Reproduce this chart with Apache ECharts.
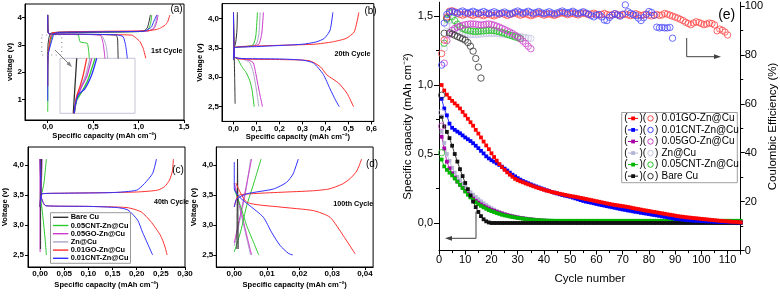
<!DOCTYPE html>
<html><head><meta charset="utf-8">
<script src="https://cdn.jsdelivr.net/npm/echarts@6.0.0/dist/echarts.min.js"></script>
<style>html,body{margin:0;padding:0;background:#fff}#c{width:780px;height:296px}</style>
</head><body><div id="c"></div>
<script>
// ---------- panel (a) 1st cycle ----------
const a_ch_black = [[0,2.4],[0.003,3.0],[0.02,3.35],[0.05,3.45],[0.5,3.47],[1.0,3.49],[1.06,3.52],[1.095,3.62],[1.115,3.85],[1.13,4.1]];
const a_ch_green = [[0,0.55],[0.001,1.0],[0.003,2.6],[0.03,3.1],[0.06,3.4],[0.1,3.46],[0.5,3.47],[1.0,3.49],[1.1,3.55],[1.13,3.75],[1.145,4.1]];
const a_ch_gray = [[0,1.5],[0.003,2.6],[0.03,3.2],[0.06,3.42],[0.6,3.48],[1.1,3.51],[1.16,3.6],[1.19,3.85],[1.205,4.1]];
const a_ch_magenta = [[0,1.5],[0.003,2.6],[0.03,3.2],[0.06,3.42],[0.6,3.48],[1.1,3.51],[1.17,3.6],[1.2,3.85],[1.215,4.1]];
const a_ch_red = [[0,1.5],[0.003,2.6],[0.03,3.25],[0.05,3.45],[0.6,3.5],[1.1,3.52],[1.2,3.57],[1.24,3.62],[1.29,3.72],[1.32,3.85],[1.345,4.1]];
const a_ch_blue = [[0,0.95],[0.003,2.6],[0.04,3.1],[0.07,3.4],[0.12,3.46],[0.6,3.48],[1.05,3.5],[1.09,3.54],[1.14,3.65],[1.16,3.8],[1.2,4.1]];
const a_dc_black = [[0,4.1],[0.003,3.5],[0.015,3.4],[0.4,3.39],[0.75,3.36],[0.768,3.25],[0.772,2.9],[0.775,2.5]];
const a_dc_green = [[0,4.1],[0.003,3.5],[0.015,3.4],[0.3,3.38],[0.337,3.36],[0.355,3.12],[0.4,3.08],[0.436,3.06],[0.45,2.8],[0.458,2.5]];
const a_dc_gray = [[0,4.1],[0.003,3.5],[0.015,3.4],[0.3,3.39],[0.59,3.35],[0.625,3.15],[0.645,2.94],[0.66,2.5]];
const a_dc_magenta = [[0,4.1],[0.003,3.5],[0.015,3.4],[0.3,3.39],[0.575,3.36],[0.61,3.06],[0.63,2.5]];
const a_dc_red = [[0,4.1],[0.003,3.5],[0.015,3.4],[0.5,3.38],[0.924,3.36],[0.97,3.26],[1.015,3.12],[1.05,2.88],[1.08,2.51]];
const a_dc_blue = [[0,4.1],[0.003,3.5],[0.015,3.4],[0.4,3.39],[0.76,3.37],[0.83,3.3],[0.86,2.94],[0.876,2.51]];
// inset of (a)
const in_black = [[0.0177,2.6],[0.02,3.0],[0.0223,3.4]];
const in_red = [[0.0187,2.6],[0.022,2.84],[0.0267,2.99],[0.031,3.16],[0.0356,3.4]];
const in_magenta = [[0.019,2.6],[0.022,2.8],[0.029,2.99],[0.0356,3.13],[0.0423,3.4]];
const in_gray = [[0.019,2.6],[0.022,2.82],[0.028,2.98],[0.034,3.14],[0.04,3.4]];
const in_green = [[0.019,2.6],[0.0223,2.79],[0.029,2.91],[0.0377,3.1],[0.0467,3.4]];
const in_blue = [[0.019,2.6],[0.02,2.7],[0.0244,2.87],[0.0333,2.96],[0.0423,3.16],[0.049,3.4]];
// ---------- panel (b) 20th cycle ----------
const b_ch_black = [[0,3.3],[0.004,3.5],[0.01,3.6],[0.015,3.8],[0.017,4.1]];
const b_ch_green = [[0,3.3],[0.005,3.5],[0.05,3.52],[0.085,3.55],[0.097,3.7],[0.104,4.1]];
const b_ch_gray = [[0,3.3],[0.005,3.5],[0.06,3.52],[0.098,3.56],[0.11,3.72],[0.116,4.1]];
const b_ch_magenta = [[0,3.3],[0.005,3.5],[0.07,3.52],[0.11,3.56],[0.123,3.75],[0.13,4.1]];
const b_ch_red = [[0,3.3],[0.005,3.5],[0.1,3.53],[0.35,3.56],[0.43,3.6],[0.49,3.66],[0.525,3.77],[0.545,4.1]];
const b_ch_blue = [[0,3.3],[0.005,3.5],[0.1,3.52],[0.3,3.56],[0.36,3.6],[0.395,3.66],[0.42,3.8],[0.432,4.1]];
const b_dc_black = [[0,4.1],[0.003,3.4],[0.005,3.0],[0.007,2.55]];
const b_dc_green = [[0,4.1],[0.004,3.35],[0.02,3.3],[0.033,3.2],[0.04,3.16],[0.055,3.08],[0.07,2.95],[0.08,2.8],[0.09,2.5]];
const b_dc_gray = [[0,4.1],[0.004,3.35],[0.04,3.31],[0.07,3.25],[0.085,3.1],[0.095,2.9],[0.103,2.7],[0.11,2.5]];
const b_dc_magenta = [[0,4.1],[0.004,3.35],[0.05,3.31],[0.085,3.25],[0.095,3.1],[0.105,2.9],[0.115,2.7],[0.126,2.5]];
const b_dc_red = [[0,4.1],[0.004,3.35],[0.02,3.31],[0.2,3.3],[0.33,3.28],[0.377,3.18],[0.406,3.04],[0.457,2.9],[0.493,2.73],[0.522,2.5]];
const b_dc_blue = [[0,4.1],[0.004,3.35],[0.02,3.32],[0.2,3.31],[0.3,3.29],[0.348,3.24],[0.39,3.05],[0.42,2.8],[0.445,2.6],[0.46,2.5]];
// ---------- panel (c) 40th cycle ----------
const c_ch_black = [[0,3.3],[0.001,3.5],[0.002,3.8],[0.003,4.1]];
const c_ch_green = [[0,3.3],[0.003,3.5],[0.008,3.7],[0.013,4.1]];
const c_ch_gray = [[0,3.3],[0.002,3.5],[0.004,4.1]];
const c_ch_magenta = [[0,3.3],[0.002,3.5],[0.004,4.1]];
const c_ch_red = [[0,3.3],[0.004,3.52],[0.05,3.53],[0.2,3.55],[0.243,3.58],[0.258,3.64],[0.268,3.75],[0.274,3.9],[0.276,4.1]];
const c_ch_blue = [[0,3.3],[0.004,3.52],[0.05,3.53],[0.15,3.54],[0.2,3.58],[0.216,3.69],[0.233,3.86],[0.241,4.1]];
const c_dc_black = [[0.001,4.1],[0.001,2.6]];
const c_dc_green = [[0,3.5],[0.005,3.2],[0.01,2.8],[0.013,2.5]];
const c_dc_gray = [[0,4.1],[0,2.6]];
const c_dc_magenta = [[0,4.1],[0,2.55]];
const c_dc_red = [[0,4.1],[0.003,3.45],[0.012,3.32],[0.1,3.31],[0.18,3.29],[0.209,3.22],[0.229,3.06],[0.249,2.83],[0.258,2.65],[0.263,2.5]];
const c_dc_blue = [[0,4.1],[0.003,3.45],[0.012,3.32],[0.1,3.31],[0.16,3.29],[0.182,3.25],[0.202,3.08],[0.212,2.88],[0.222,2.7],[0.233,2.5]];
// ---------- panel (d) 100th cycle ----------
const d_ch_black = [[0.0008,2.6],[0.001,4.1]];
const d_ch_green = [[0,2.55],[0.002,2.9],[0.0038,3.32],[0.006,3.7],[0.0082,4.1]];
const d_ch_gray = [[0,2.65],[0.002,3.15],[0.0035,3.55],[0.005,4.1]];
const d_ch_magenta = [[0,2.7],[0.002,3.2],[0.0035,3.6],[0.0053,4.1]];
const d_ch_red = [[0,3.3],[0.0012,3.49],[0.005,3.52],[0.014,3.545],[0.024,3.57],[0.029,3.6],[0.033,3.68],[0.0354,3.77],[0.0375,3.9],[0.039,4.1]];
const d_ch_blue = [[0,3.3],[0.0007,3.43],[0.0038,3.52],[0.012,3.6],[0.016,3.71],[0.018,3.85],[0.0196,4.1]];
const d_dc_black = [[0.001,4.1],[0.0012,2.6]];
const d_dc_green = [[0,3.6],[0.002,3.3],[0.0038,2.99],[0.006,2.7],[0.0075,2.5]];
const d_dc_gray = [[0,3.7],[0.002,3.2],[0.0035,2.85],[0.005,2.5]];
const d_dc_magenta = [[0,3.7],[0.002,3.25],[0.0035,2.9],[0.0053,2.5]];
const d_dc_red = [[0.0005,3.7],[0.0038,3.38],[0.014,3.3],[0.0242,3.24],[0.0293,3.13],[0.0334,2.82],[0.037,2.52]];
const d_dc_blue = [[0,4.05],[0,3.6],[0.0017,3.46],[0.0048,3.32],[0.0089,3.13],[0.0114,2.88],[0.014,2.66],[0.0165,2.53],[0.0179,2.5]];
// ---------- panel (e) cycling ----------
const cap_red = [1.0,0.96,0.93,0.905,0.885,0.867,0.85,0.83,0.805,0.78,
0.755,0.73,0.705,0.675,0.648,0.62,0.59,0.562,0.535,0.505,
0.478,0.452,0.427,0.405,0.385,0.367,0.35,0.335,0.32,0.31,
0.302,0.295,0.287,0.28,0.273,0.266,0.259,0.253,0.247,0.241,
0.235,0.23,0.225,0.22,0.216,0.212,0.208,0.204,0.2,0.196,
0.193,0.19,0.186,0.182,0.178,0.174,0.17,0.166,0.162,0.158,
0.154,0.15,0.146,0.142,0.138,0.134,0.131,0.128,0.125,0.122,
0.119,0.116,0.112,0.108,0.104,0.101,0.097,0.093,0.09,0.087,
0.083,0.08,0.077,0.073,0.07,0.067,0.063,0.06,0.057,0.053,
0.05,0.047,0.045,0.042,0.04,0.038,0.036,0.034,0.032,0.03,
0.028,0.026,0.024,0.022,0.02,0.018,0.016,0.015,0.013,0.012,
0.01,0.009,0.008,0.006,0.005];
const cap_blue = [0.9,0.83,0.78,0.72,0.69,0.675,0.662,0.65,0.635,0.62,
0.607,0.594,0.578,0.56,0.542,0.523,0.504,0.483,0.468,0.455,
0.444,0.432,0.421,0.408,0.394,0.38,0.365,0.35,0.338,0.325,
0.314,0.304,0.296,0.288,0.28,0.272,0.265,0.258,0.251,0.244,
0.237,0.231,0.225,0.22,0.214,0.208,0.203,0.198,0.194,0.19,
0.184,0.178,0.172,0.166,0.16,0.155,0.151,0.147,0.143,0.138,
0.134,0.13,0.126,0.122,0.118,0.114,0.11,0.106,0.102,0.098,
0.095,0.091,0.088,0.084,0.081,0.078,0.074,0.071,0.068,0.065,
0.061,0.058,0.055,0.052,0.048,0.045,0.042,0.038,0.034,0.03,
0.028,0.026,0.024,0.022,0.02,0.019,0.017,0.016,0.015,0.014,
0.013,0.012,0.011,0.01,0.009,0.008,0.008,0.007,0.007,0.006,
0.006,0.005,0.005,0.004,0.004];
const cap_black = [0.77,0.7,0.66,0.615,0.56,0.5,0.445,0.39,0.34,0.29,
0.245,0.2,0.155,0.115,0.08,0.05,0.027,0.012,0.004,0,
0,0,0,0,0,0,0,0,0,0, 0,0,0,0,0,0,0,0,0,0, 0,0,0,0,0,0,0,0,0,0,
0,0,0,0,0,0,0,0,0,0, 0,0,0,0,0,0,0,0,0,0, 0,0,0,0,0,0,0,0,0,0,
0,0,0,0,0,0,0,0,0,0, 0,0,0,0,0,0,0,0,0,0, 0,0,0,0,0,0,0,0,0,0, 0,0,0,0,0];
const cap_green = [0.46,0.41,0.385,0.365,0.345,0.322,0.3,0.277,0.253,0.228,
0.205,0.185,0.166,0.15,0.136,0.124,0.113,0.103,0.094,0.086,
0.079,0.072,0.066,0.06,0.055,0.051,0.047,0.043,0.04,0.037,
0.034,0.031,0.029,0.027,0.025,0.023,0.021,0.02,0.019,0.018,
0.017,0.017,0.017,0.016,0.016,0.016,0.016,0.016,0.016,0.016,
0.016,0.016,0.016,0.016,0.016,0.016,0.016,0.016,0.016,0.016,
0.016,0.016,0.016,0.016,0.016,0.016,0.016,0.016,0.016,0.016,
0.016,0.016,0.016,0.016,0.016,0.016,0.016,0.016,0.016,0.016,
0.016,0.016,0.016,0.016,0.016,0.016,0.016,0.016,0.016,0.016,
0.016,0.016,0.016,0.016,0.016,0.016,0.016,0.016,0.016,0.016,
0.016,0.016,0.016,0.016,0.016,0.016,0.016,0.016,0.016,0.016,
0.016,0.016,0.016,0.016,0.016];
const cap_magenta = [0.625,0.54,0.444,0.396,0.36,0.33,0.3,0.277,0.255,0.233,
0.213,0.194,0.177,0.161,0.147,0.134,0.123,0.113,0.104,0.095,
0.088,0.081,0.074,0.068,0.062,0.057,0.052,0.048,0.044,0.04,
0.037,0.034,0.031,0.028,0.026,0.024,0.022,0.02,0.018,0.017,
0.016,0.015,0.014,0.013,0.013,0.012,0.012,0.011,0.011,0.011,
0.01,0.01,0.01,0.01,0.01,0.01,0.01,0.01,0.01,0.01];
const cap_lav = [0.66,0.58,0.5,0.45,0.4,0.365,0.335,0.31,0.285,0.263,
0.243,0.223,0.205,0.188,0.172,0.157,0.143,0.13,0.118,0.107,
0.097,0.088,0.08,0.073,0.066,0.06,0.055,0.05,0.046,0.042,
0.038,0.035,0.032,0.029,0.027,0.025,0.023,0.021,0.019,0.018,
0.017,0.016,0.015,0.014,0.013,0.013,0.012,0.012,0.011,0.011,
0.011,0.01,0.01,0.01,0.01,0.01,0.01,0.01,0.01,0.01];
const ce_red = [80.5,86,95.5,97.8,98,97.6,97,96.5,96.2,96.6,
96.9,96.4,96.1,96.5,96.8,96.3,96,96.4,96.7,96.2,
95.9,96.3,96.7,97,96.5,96.1,96.4,96.8,97.1,96.6,
96.2,96.5,96.9,96.4,96,96.3,96.7,97,96.6,96.2,
96.5,96.8,96.4,96.1,96.5,96.9,97.2,96.8,96.4,96.7,
97,96.6,96.3,96.7,97.1,96.8,96.4,96.7,97,96.6,
96.2,96.5,96.9,96.5,96.1,96.4,96.8,96.5,96.1,96.4,
96.7,96.3,96,96.4,96.8,96.4,96,96.3,96.6,96.2,
95.9,96.2,96.5,96.1,96.3,96.9,96.6,96.2,95.8,95.4,
95,94.5,94,93.3,92.8,92.3,93,93.5,93.2,92.8,
92.3,92.6,93,92.8,92.2,89.8,90.5,90,89.3,88.1];
const ce_blue = [75.8,93,96.5,97.5,97.8,97.3,97,97.5,97.9,97.4,
97,97.4,97.8,97.3,96.9,97.3,97.7,97.2,96.8,97.2,
97.6,97.1,96.7,97.1,97.5,97,96.6,97,97.5,97.9,
97.4,97,97.4,97.8,97.3,96.9,97.3,97.7,97.2,96.8,
97.2,97.6,97.1,96.7,97.1,97.5,97.9,97.4,97,97.4,
97.8,97.2,96.8,97.2,97.6,97.1,96.6,96,95.5,96.2,
96.5,95.5,94.2,94,95.3,96.2,96.8,96.3,95.8,96.6,
100.4,97.6,97,96.5,96,95,94,95.2,96.5,97.7,
97.3,96.2,91.3,91,91.2,91,91,91.2,86.8];
const ce_green = [40,84.7,94.5,97,95.5,94,92.5,91.5,90.8,90.3,
90,89.8,89.6,89.5,89.6,89.7,89.8,89.9,90,90,
89.9,89.7,89.4,89.1,88.8,88.4,88,87.7,87.3,87,86.7];
const ce_magenta = [50.8,76.6,85.8,88.5,90,90.8,91.3,91.7,92,92.3,
92.5,92.6,92.6,92.5,92.3,92.2,92.3,92.5,92.6,92.4,
92.1,91.7,91.3,90.8,90.3,89.8,89.3,88.7,88,87.3,
86.5,85.6,84.6,83.5,82.5];
const ce_lav = [56.4,82.6,92,94,92.2,90.5,89.6,89,88.7,88.5,
88.4,88.3,88.3,88.3,88.4,88.5,88.6,88.7,88.8,88.8,
88.8,88.7,88.6,88.5,88.4,88.3,88.2,88,87.8,87.6,
87.4,87.2,87,86.8,86.7];
const ce_black = [63.5,88.8,95,89,88.5,88,87.5,87,86.5,86,85,83.5,81.5,78.5,75,70.5];
// ---------- ticks & labels ----------
const aTicksX = [0,0.5,1,1.5], aTicksY = [1,2,3,4];
const bTicksX = [0,0.1,0.2,0.3,0.4,0.5,0.6], vTicks = [2.5,3,3.5,4];
const cTicksX = [0,0.05,0.1,0.15,0.2,0.25,0.3], dTicksX = [0,0.01,0.02,0.03,0.04];
const eTicksL = [0,0.5,1,1.5], eMinorL = [0.25,0.75,1.25];
const eTicksR = [0,20,40,60,80,100], eMinorR = [10,30,50,70,90];
const legendNames = ['Bare Cu','0.05CNT-Zn@Cu','0.05GO-Zn@Cu','Zn@Cu','0.01GO-Zn@Cu','0.01CNT-Zn@Cu'];
const eLegendNames = ['0.01GO-Zn@Cu','0.01CNT-Zn@Cu','0.05GO-Zn@Cu','Zn@Cu','0.05CNT-Zn@Cu','Bare Cu'];

const FONT = '"Liberation Sans", Arial, sans-serif';
const COL = {black:'#303030', green:'#2ec82e', magenta:'#cc3acc', gray:'#aaa8c8', red:'#ff3030', blue:'#3030ff'};
const ECAP = {red:'#ff0000', blue:'#0000ff', magenta:'#a800a8', lav:'#b4b4d4', green:'#00b400', black:'#111111'};
const ECE = {red:'#ff4848', blue:'#4848ff', magenta:'#cc44cc', lav:'#c4c4e2', green:'#22c422', black:'#333333'};

const f0 = v => String(v);
const f1 = v => v.toFixed(1).replace('.', ',');
const f2 = v => v.toFixed(2).replace('.', ',');
const capName = 'Specific capacity (mAh cm\u207B\u00B2)';

function pAxis(grid, min, max, ticks, fmt, name, gap, isY, margin) {
  return {type:'value', gridIndex:grid, min, max, position: isY?'left':'bottom',
    axisLine:{show:true, onZero:false, lineStyle:{color:'#000', width:1}},
    axisTick:{show:true, length:3, customValues:ticks, lineStyle:{color:'#000', width:1}},
    axisLabel:{customValues:ticks, formatter:fmt, fontSize:8, fontWeight:'bold', fontFamily:FONT, color:'#000', margin:margin},
    splitLine:{show:false}, name, nameLocation:'middle', nameGap:gap,
    nameTextStyle:{fontSize:7.6, fontWeight:'bold', fontFamily:FONT, color:'#000'}};
}
function hidden(grid, min, max) {
  return {type:'value', gridIndex:grid, min, max, show:false, splitLine:{show:false}};
}
const pGrid = (l,t,w,h) => ({left:l, top:t, width:w, height:h, show:true, borderColor:'#000', borderWidth:1, containLabel:false});

const grids = [
  pGrid(25, 4, 159, 116),          // 0 a
  {left:60, top:58.3, width:75, height:55, show:true, borderColor:'#c4c4d6', borderWidth:1}, // 1 inset
  pGrid(222, 3.6, 151.8, 117.8),   // 2 b
  pGrid(25, 147, 160, 120),        // 3 c
  pGrid(216.3, 147, 156.8, 120),   // 4 d
  {left:439, top:2.2, width:304, height:248.4, show:false} // 5 e
];
const xAxes = [
  pAxis(0, -0.25, 1.5, aTicksX, f1, capName, 12, false, 3),
  hidden(1, 0, 0.1),
  pAxis(2, -0.05, 0.61, bTicksX, f1, capName, 12, false, 3),
  pAxis(3, -0.025, 0.3, cTicksX, f2, capName, 14, false, 3),
  pAxis(4, -0.0055, 0.0425, dTicksX, f2, capName, 14, false, 3),
  {type:'value', gridIndex:5, min:0, max:115, interval:10, position:'bottom',
   axisLine:{show:true, onZero:false, lineStyle:{color:'#000', width:1}},
   axisTick:{show:true, length:4, lineStyle:{color:'#000'}},
   minorTick:{show:true, splitNumber:2, length:2.5, lineStyle:{color:'#000'}},
   axisLabel:{fontSize:11, fontFamily:FONT, color:'#000', margin:4, showMaxLabel:false},
   splitLine:{show:false}, minorSplitLine:{show:false}, name:'Cycle number', nameLocation:'middle', nameGap:22,
   nameTextStyle:{fontSize:11.5, fontFamily:FONT, color:'#000'}}
];
const yAxes = [
  pAxis(0, 0.25, 4.5, aTicksY, f0, 'voltage (v)', 11, true, 3),
  hidden(1, 2.6, 3.4),
  pAxis(2, 2.25, 4.25, vTicks, f1, 'Voltage (v)', 15, true, 3),
  pAxis(3, 2.3, 4.3, vTicks, f1, 'Voltage (v)', 16, true, 4),
  pAxis(4, 2.3, 4.3, vTicks, f1, 'Voltage (v)', 14, true, 3),
  {type:'value', gridIndex:5, min:-0.2, max:1.6, position:'left',
   axisLine:{show:true, onZero:false, lineStyle:{color:'#000', width:1}},
   axisTick:{show:true, length:5, customValues:eTicksL, lineStyle:{color:'#000'}},
   axisLabel:{customValues:eTicksL, formatter:f1, fontSize:11, fontFamily:FONT, color:'#000', margin:6},
   splitLine:{show:false}, name:capName, nameLocation:'middle', nameGap:25,
   nameTextStyle:{fontSize:11.5, fontFamily:FONT, color:'#000'}},
  {type:'value', gridIndex:5, min:0, max:101.5, position:'right',
   axisLine:{show:true, onZero:false, lineStyle:{color:'#000', width:1}},
   axisTick:{show:true, length:4, customValues:eTicksR, lineStyle:{color:'#000'}},
   axisLabel:{customValues:eTicksR, formatter:f0, fontSize:11, fontFamily:FONT, color:'#000', margin:4},
   splitLine:{show:false}, name:'Coulombic Efficiency (%)', nameLocation:'middle', nameGap:24, nameRotate:90,
   nameTextStyle:{fontSize:11.5, fontFamily:FONT, color:'#000'}},
  {type:'value', gridIndex:5, min:-0.2, max:1.6, position:'left', axisLine:{show:false},
   axisTick:{show:true, length:3, customValues:eMinorL, lineStyle:{color:'#000'}},
   axisLabel:{show:false}, splitLine:{show:false}},
  {type:'value', gridIndex:5, min:0, max:101.5, position:'right', axisLine:{show:false},
   axisTick:{show:true, length:2.5, customValues:eMinorR, lineStyle:{color:'#000'}},
   axisLabel:{show:false}, splitLine:{show:false}}
];

const series = [];
function curve(g, data, color, w) {
  series.push({type:'line', xAxisIndex:g, yAxisIndex:g, data, symbol:'none', showSymbol:false,
    smooth:0.2, lineStyle:{width:w||1, color}, itemStyle:{color}, silent:true, animation:false});
}
const panels = [
  [0, {gray:[a_ch_gray,a_dc_gray], magenta:[a_ch_magenta,a_dc_magenta], green:[a_ch_green,a_dc_green], black:[a_ch_black,a_dc_black], red:[a_ch_red,a_dc_red], blue:[a_ch_blue,a_dc_blue]}],
  [1, {gray:[in_gray], magenta:[in_magenta], green:[in_green], black:[in_black], red:[in_red], blue:[in_blue]}],
  [2, {gray:[b_ch_gray,b_dc_gray], magenta:[b_ch_magenta,b_dc_magenta], green:[b_ch_green,b_dc_green], black:[b_ch_black,b_dc_black], red:[b_ch_red,b_dc_red], blue:[b_ch_blue,b_dc_blue]}],
  [3, {gray:[c_ch_gray,c_dc_gray], magenta:[c_ch_magenta,c_dc_magenta], green:[c_ch_green,c_dc_green], black:[c_ch_black,c_dc_black], red:[c_ch_red,c_dc_red], blue:[c_ch_blue,c_dc_blue]}],
  [4, {gray:[d_ch_gray,d_dc_gray], magenta:[d_ch_magenta,d_dc_magenta], green:[d_ch_green,d_dc_green], black:[d_ch_black,d_dc_black], red:[d_ch_red,d_dc_red], blue:[d_ch_blue,d_dc_blue]}]
];
panels.forEach(([g, m]) => Object.keys(m).forEach(k => m[k].forEach(d => curve(g, d, COL[k], g === 1 ? 1.3 : 1))));

const toPts = arr => arr.map((v, i) => [i + 1, v]);
function capS(arr, key) {
  series.push({type:'line', xAxisIndex:5, yAxisIndex:5, data:toPts(arr), symbol:'rect', symbolSize:3.8,
    showAllSymbol:true, lineStyle:{width:0.8, color:ECAP[key]}, itemStyle:{color:ECAP[key]}, silent:true, animation:false, z:3});
}
function ceS(arr, key) {
  series.push({type:'scatter', xAxisIndex:5, yAxisIndex:6, data:toPts(arr), symbol:'circle', symbolSize:6.4,
    itemStyle:{color:'rgba(0,0,0,0)', borderColor:ECE[key], borderWidth:1}, silent:true, animation:false, z:4});
}
capS(cap_lav,'lav'); capS(cap_magenta,'magenta'); capS(cap_green,'green'); capS(cap_black,'black'); capS(cap_blue,'blue'); capS(cap_red,'red');
ceS(ce_lav,'lav'); ceS(ce_green,'green'); ceS(ce_magenta,'magenta'); ceS(ce_black,'black'); ceS(ce_red,'red'); ceS(ce_blue,'blue');

// ---------- graphics: labels, legends, arrows ----------
const G = [];
const txt = (x, y, s, size, bold, align) => G.push({type:'text', x, y, z:10, silent:true,
  style:{text:s, fontSize:size, fontWeight:bold?'bold':'normal', fontFamily:FONT, fill:'#000', align:align||'center', verticalAlign:'middle'}});
txt(176.5, 9.5, '(a)', 10, false); txt(370.5, 11.7, '(b)', 10, false);
txt(178, 170.7, '(c)', 10, false); txt(372, 164, '(d)', 10, false); txt(726.7, 15, '(e)', 14, false);
txt(166.7, 51, '1st Cycle', 7.2, true); txt(352.5, 54.3, '20th Cycle', 7.2, true);
txt(171.5, 201.7, '40th Cycle', 7, true); txt(353.3, 204.3, '100th Cycle', 7.2, true);
// dotted zoom box and arrow in (a)
G.push({type:'rect', z:10, silent:true, shape:{x:41.7, y:35, width:20, height:20}, style:{fill:'none', stroke:'#8a8a9a', lineWidth:1.2, lineDash:[1,3.5]}});
G.push({type:'line', z:10, silent:true, shape:{x1:55, y1:50, x2:69.5, y2:64.5}, style:{stroke:'#808080', lineWidth:1}});
G.push({type:'polygon', z:10, silent:true, shape:{points:[[72,67],[66.5,64.2],[69.3,61.5]]}, style:{fill:'#808080'}});
// legend (c)
G.push({type:'rect', z:10, silent:true, shape:{x:50.5, y:212.7, width:80, height:50.6}, style:{fill:'#fff', stroke:'#9a9a9a', lineWidth:1}});
const lc = [COL.black, COL.green, COL.magenta, COL.gray, COL.red, COL.blue];
legendNames.forEach((n, i) => {
  const y = 217.3 + i * 8.2;
  G.push({type:'line', z:11, silent:true, shape:{x1:53, y1:y, x2:68.3, y2:y}, style:{stroke:lc[i], lineWidth:1.4}});
  txt(70.7, y, n, 7.4, true, 'left');
});
// legend (e)
G.push({type:'rect', z:10, silent:true, shape:{x:621.7, y:112.5, width:115.6, height:70.2}, style:{fill:'#fff', stroke:'#a0a0a0', lineWidth:1}});
const lk = ['red','blue','magenta','lav','green','black'];
eLegendNames.forEach((n, i) => {
  const y = 118.4 + i * 11.55, k = lk[i];
  txt(624.3, y, '(', 10, false, 'left');
  G.push({type:'line', z:11, silent:true, shape:{x1:628, y1:y, x2:638, y2:y}, style:{stroke:ECAP[k], lineWidth:1}});
  G.push({type:'rect', z:11, silent:true, shape:{x:631.2, y:y-1.9, width:3.8, height:3.8}, style:{fill:ECAP[k]}});
  txt(639.5, y, ')(', 10, false, 'left');
  G.push({type:'circle', z:11, silent:true, shape:{cx:650.5, cy:y, r:2.7}, style:{fill:'none', stroke:ECE[k], lineWidth:1}});
  txt(655, y, ')', 10, false, 'left');
  txt(661.5, y, n, 10, false, 'left');
});
// arrows (e)
G.push({type:'polyline', z:10, silent:true, shape:{points:[[686.7,38],[686.7,56.7],[715,56.7]]}, style:{stroke:'#404040', lineWidth:1, fill:'none'}});
G.push({type:'polygon', z:10, silent:true, shape:{points:[[721,56.7],[714,54.3],[714,59.1]]}, style:{fill:'#404040'}});
G.push({type:'polyline', z:10, silent:true, shape:{points:[[476,211.7],[476,238.3],[451,238.3]]}, style:{stroke:'#404040', lineWidth:1, fill:'none'}});
G.push({type:'polygon', z:10, silent:true, shape:{points:[[445,238.3],[452,235.9],[452,240.7]]}, style:{fill:'#404040'}});

const chart = echarts.init(document.getElementById('c'), null, {renderer:'canvas'});
chart.setOption({backgroundColor:'#fff', animation:false, grid:grids, xAxis:xAxes, yAxis:yAxes, series, graphic:G});
</script></body></html>
